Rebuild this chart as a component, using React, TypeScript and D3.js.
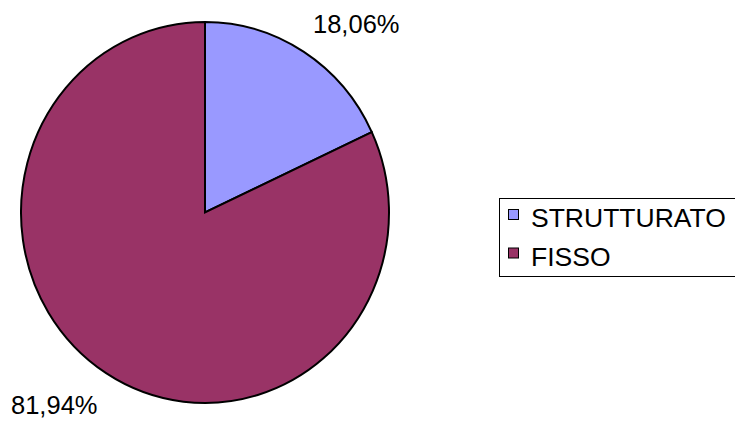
import React from "react";
import * as d3 from "d3";

const categories = ["STRUTTURATO", "FISSO"];
const values = [18.06, 81.94];
const labels = ["18,06%", "81,94%"];
const colors = ["#9999FF", "#993366"];

export default function App() {
  const W = 735, H = 421;
  const cx = 205, cy = 212.5, rx = 184, ry = 190.5;
  const pie = d3.pie<number>().sort(null).value((d) => d)(values);
  const arc = d3.arc<d3.PieArcDatum<number>>().innerRadius(0).outerRadius(ry);
  const sx = rx / ry;
  const labelPos = [
    { x: 313, y: 33 },
    { x: 11, y: 414 },
  ];
  return (
    <svg
      width={W}
      height={H}
      style={{ position: "absolute", left: 0, top: 0, background: "#fff" }}
      fontFamily="Liberation Sans, Arial, sans-serif"
    >
      <g transform={`translate(${cx},${cy}) scale(${sx},1)`}>
        {pie.map((p, i) => (
          <path
            key={i}
            d={arc(p) || ""}
            fill={colors[i]}
            stroke="#000"
            strokeWidth={2}
            vectorEffect="non-scaling-stroke"
            strokeLinejoin="miter"
          />
        ))}
      </g>
      {labels.map((t, i) => (
        <text key={i} x={labelPos[i].x} y={labelPos[i].y} fontSize={25.5} fill="#000">
          {t}
        </text>
      ))}
      <rect x={499.5} y={198.5} width={250} height={78} fill="#fff" stroke="#000" strokeWidth={1} />
      {categories.map((c, i) => (
        <g key={c}>
          <rect
            x={508.5}
            y={209.5 + i * 38.5}
            width={10}
            height={10}
            fill={colors[i]}
            stroke="#000"
            strokeWidth={1}
          />
          <text x={531} y={227 + i * 39} fontSize={26.5} fill="#000">
            {c}
          </text>
        </g>
      ))}
    </svg>
  );
}
